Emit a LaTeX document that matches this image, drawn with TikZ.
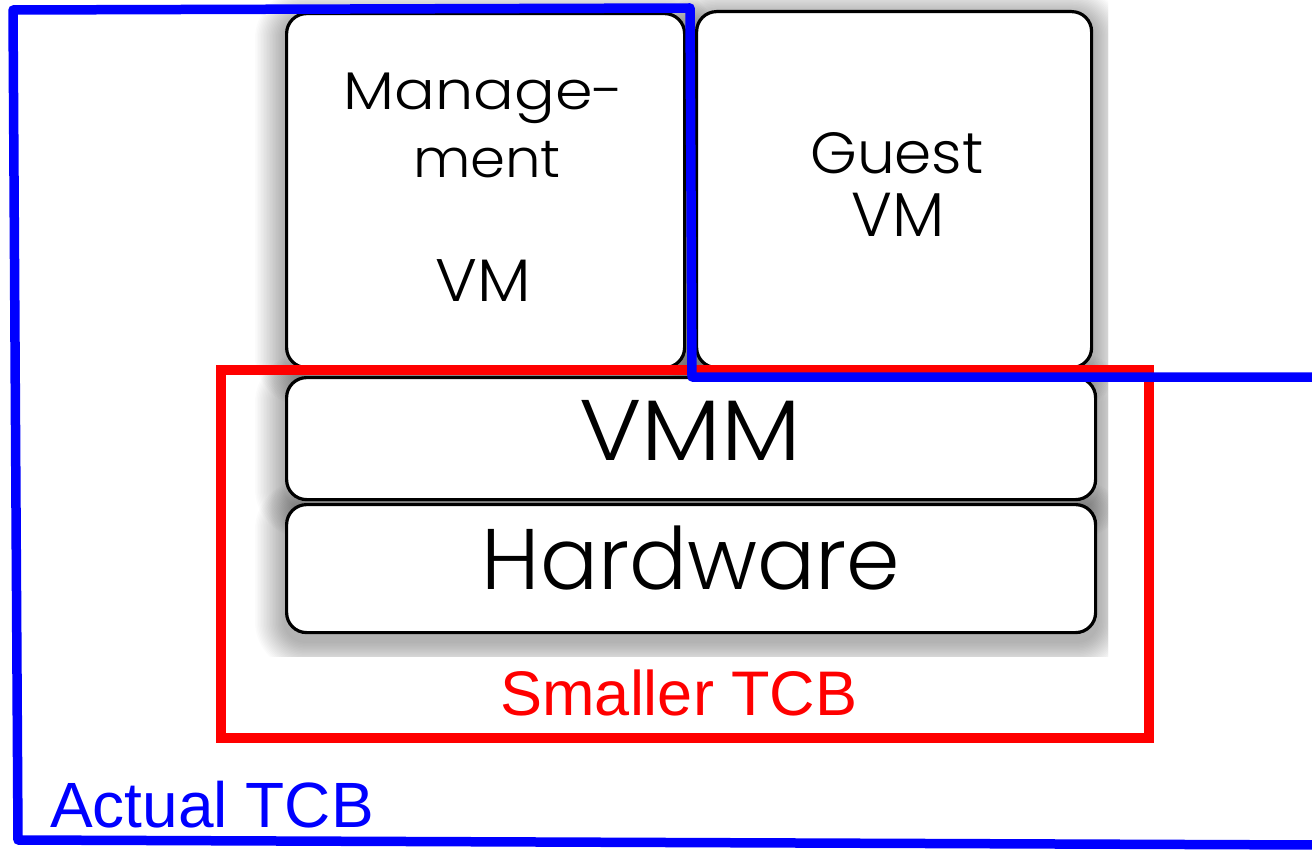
\documentclass[tikz,border=0pt]{standalone}
\usepackage{fontspec}
\setmainfont{Liberation Sans}
\newfontfamily\gothic{Poppins Light}
\definecolor{tcbblue}{HTML}{0000FF}
\definecolor{tcbred}{HTML}{FF0000}
\tikzset{
  layerbox/.style={draw=black, line width=3.2pt, rounded corners=20pt, fill=white, inner sep=0pt, anchor=north west},
  boxtext/.style={inner sep=0pt, anchor=base, font=\gothic\fontsize{#1}{#1}\selectfont, text=black},
  tcblabel/.style={inner sep=0pt, font=\fontsize{#1}{#1}\selectfont},
  blueline/.style={draw=tcbblue, line width=9.5pt, line join=round},
  redline/.style={draw=tcbred, line width=10pt, line join=miter}
}
\newcommand\boxshadow[1]{%
  \foreach \i in {1,...,20}{%
    \pgfmathsetmacro\dd{1.5*\i}%
    \pgfmathsetmacro\rr{20+\dd}%
    \fill[black, opacity=0.016, rounded corners=\rr pt]
      ([xshift=-\dd pt, yshift={(\dd-7)*1pt}]#1.north west) rectangle
      ([xshift=\dd pt, yshift={(-\dd-7)*1pt}]#1.south east);
  }%
}
\begin{document}
\begin{tikzpicture}[x=1pt, y=-1pt]
\path[fill=white, use as bounding box] (0,0) rectangle (1312,850);
% stack boxes (positions only)
\path (285,12) coordinate (mgmtnw) (695,10) coordinate (guestnw)
      (285,376) coordinate (vmmnw) (285,503) coordinate (hwnw);
\node[layerbox, minimum width=398pt, minimum height=354pt, draw=none, fill=none] (mgmt0) at (mgmtnw) {};
\node[layerbox, minimum width=395pt, minimum height=356pt, draw=none, fill=none] (guest0) at (guestnw) {};
\node[layerbox, minimum width=809pt, minimum height=122pt, draw=none, fill=none] (vmm0) at (vmmnw) {};
\node[layerbox, minimum width=809pt, minimum height=128pt, draw=none, fill=none] (hw0) at (hwnw) {};
% shadows
\begin{scope}
  \clip (252,0) rectangle (1108,656);
  \boxshadow{mgmt0}
  \boxshadow{guest0}
  \boxshadow{vmm0}
  \boxshadow{hw0}
\end{scope}
% boxes
\node[layerbox, minimum width=398pt, minimum height=354pt] (mgmt) at (mgmtnw) {};
\node[layerbox, minimum width=395pt, minimum height=356pt] (guest) at (guestnw) {};
\node[layerbox, minimum width=809pt, minimum height=122pt] (vmm) at (vmmnw) {};
\node[layerbox, minimum width=809pt, minimum height=128pt] (hw) at (hwnw) {};
% texts
\node[boxtext=53] (mgmtA) at (484,110) {\scalebox{1.14}[1]{Manage-}};
\node[boxtext=53] (mgmtB) at (487,178) {\scalebox{1.06}[1]{ment}};
\node[boxtext=60] (mgmtC) at (483,302) {\scalebox{1.06}[1]{VM}};
\node[boxtext=58] (guestA) at (897,174) {\scalebox{1.03}[1]{Guest}};
\node[boxtext=62] (guestB) at (898,237) {VM};
\node[boxtext=86] (vmmt) at (690,460) {\scalebox{1.1}[1]{VMM}};
\node[boxtext=86] (hwt) at (691,589) {Hardware};
% TCB outlines
\draw[redline] (221,370) rectangle (1149,738);
\node[tcblabel=63, text=tcbred, anchor=base] (small) at (679,715) {Smaller TCB};
\draw[blueline] (1316,377) -- (692,377) -- (690,8) -- (13,10) -- (18,840) -- (1316,845);
\node[tcblabel=64, text=tcbblue, anchor=base west] (actual) at (50,827) {Actual TCB};
\end{tikzpicture}
\end{document}
